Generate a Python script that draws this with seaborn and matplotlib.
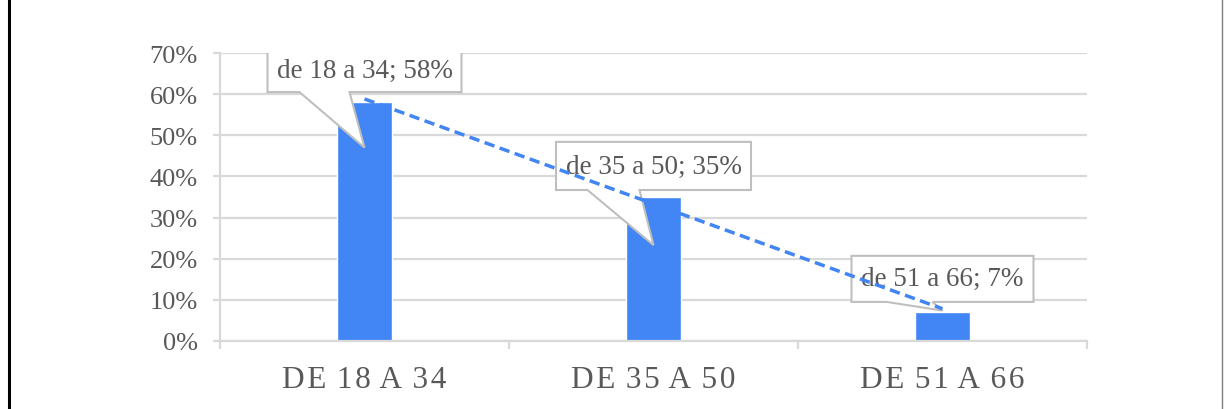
import matplotlib
matplotlib.use("Agg")
import matplotlib.pyplot as plt
from matplotlib.patches import Polygon
from matplotlib.lines import Line2D
from matplotlib.ticker import FixedLocator, PercentFormatter
import seaborn as sns
import pandas as pd

# Data
groups = ["DE 18 A 34", "DE 35 A 50", "DE 51 A 66"]
shares = [58, 35, 7]
callout_texts = ["de 18 a 34; 58%", "de 35 a 50; 35%", "de 51 a 66; 7%"]
y_ticks = [0, 10, 20, 30, 40, 50, 60, 70]

BLUE = "#4285F4"
GRID = "#d9d9d9"
TEXT = "#595959"
SERIF = ["Liberation Serif", "DejaVu Serif"]
HAIR = "\u200a"

sns.set_theme(style="white")
plt.rcParams["font.family"] = SERIF

df = pd.DataFrame({"group": groups, "share": shares, "pos": range(len(groups))})


def spaced(label):
    # widen the tracking a little: a hair space after every character except a plain space
    return "".join(c if c == " " else c + HAIR for c in label).rstrip(HAIR)


fig = plt.figure(figsize=(12.24, 4.10), dpi=100)
ax = fig.add_axes([220 / 1224, 1 - 342 / 410, (1087 - 220) / 1224, (342 - 54) / 410])

sns.barplot(data=df, x="group", y="share", color=BLUE, saturation=1, width=0.187,
            ax=ax, zorder=2)

# Linear trend across the three groups
sns.regplot(data=df, x="pos", y="share", scatter=False, ci=None, truncate=True, ax=ax,
            line_kws=dict(color=BLUE, lw=2.5, linestyle=(0, (3.0, 1.6)), zorder=6))

ax.set_xlim(-0.5, 2.5)
ax.set_ylim(0, 70)
ax.set_xlabel("")
ax.set_ylabel("")

# Grid and axes styling
ax.yaxis.set_major_locator(FixedLocator(y_ticks))
ax.yaxis.set_major_formatter(PercentFormatter(decimals=0))
ax.grid(axis="y", color=GRID, lw=1.6, zorder=0)
ax.set_axisbelow(True)
for side in ["top", "right"]:
    ax.spines[side].set_visible(False)
for side in ["left", "bottom"]:
    ax.spines[side].set_color(GRID)
    ax.spines[side].set_linewidth(1.6)
ax.tick_params(axis="y", which="major", length=5, width=1.6, color=GRID, pad=11,
               labelsize=19, labelcolor=TEXT, left=True)
ax.xaxis.set_minor_locator(FixedLocator([-0.5, 0.5, 1.5, 2.5]))
ax.tick_params(axis="x", which="minor", length=6, width=1.6, color=GRID, bottom=True)
ax.tick_params(axis="x", which="major", length=0, pad=17, labelsize=22.5, labelcolor=TEXT)

# Letter-spaced category labels
ax.set_xticks(range(len(groups)))
ax.set_xticklabels([spaced(g) for g in groups])
for lab in ax.get_xticklabels():
    lab.set_fontfamily(SERIF)
for lab in ax.get_yticklabels():
    lab.set_fontfamily(SERIF)

# Callout boxes (x offsets in category units, y in percent)
px_x = 1.0 / 289.0
callouts = [
    # half width, bottom, top, wedge base left, wedge base right, tip y
    (97 * px_x, 60.5, 71.0, -65 * px_x, -15 * px_x, 47.0),
    (97.5 * px_x, 36.7, 48.4, -66 * px_x, -14 * px_x, 23.3),
    (91 * px_x, 9.5, 20.7, -56 * px_x, -10 * px_x, 7.4),
]
for i, (hw, yb, yt, b1, b2, tip) in enumerate(callouts):
    xc = df["pos"][i]
    verts = [
        (xc - hw, yt), (xc + hw, yt), (xc + hw, yb),
        (xc + b2, yb), (xc, tip), (xc + b1, yb), (xc - hw, yb),
    ]
    ax.add_patch(Polygon(verts, closed=True, facecolor="white", edgecolor="#bfbfbf",
                         lw=1.5, zorder=4, joinstyle="miter"))
    ax.text(xc, (yb + yt) / 2, callout_texts[i], ha="center", va="center",
            fontsize=19.5, color=TEXT, family=SERIF, zorder=5)

# Page borders
fig.add_artist(Line2D([9 / 1224, 9 / 1224], [0, 1], color="black", lw=2.2))
fig.add_artist(Line2D([1222 / 1224, 1222 / 1224], [0, 1], color="#808080", lw=1.0))

fig.savefig("out.png", dpi=100)
